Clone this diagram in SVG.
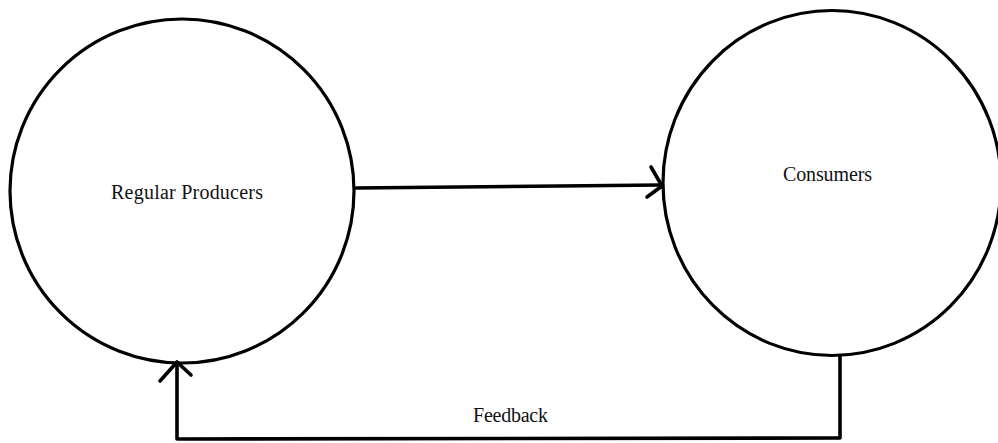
<svg xmlns="http://www.w3.org/2000/svg" width="998" height="443" viewBox="0 0 998 443">
<style>
.node{fill:none;stroke:#000;stroke-width:3.2}
.lbl{font-family:"Liberation Serif","Times New Roman",serif;font-size:20px;fill:#111}
.conn{fill:none;stroke:#000;stroke-width:3.6;stroke-linecap:round;stroke-linejoin:round}
</style>
<rect width="998" height="443" fill="#fff"/>
<g id="regular-producers">
<circle class="node" cx="182" cy="191" r="172"/>
<text class="lbl" x="111" y="199" textLength="152" lengthAdjust="spacing">Regular  Producers</text>
</g>
<g id="consumers">
<ellipse class="node" cx="832" cy="183" rx="169" ry="172.5"/>
<text class="lbl" x="783" y="181" textLength="89" lengthAdjust="spacing">Consumers</text>
</g>
<g id="connectors">
<path class="conn" d="M356,188 L661,185"/>
<path class="conn" d="M651,167 L662,186 L647,197"/>
<path class="conn" d="M840,356 L840,438 L177,439 L177,363"/>
<path class="conn" d="M160,381 L177,362 L191,375"/>
<text class="lbl" x="473" y="422" textLength="75" lengthAdjust="spacing">Feedback</text>
</g>
</svg>
